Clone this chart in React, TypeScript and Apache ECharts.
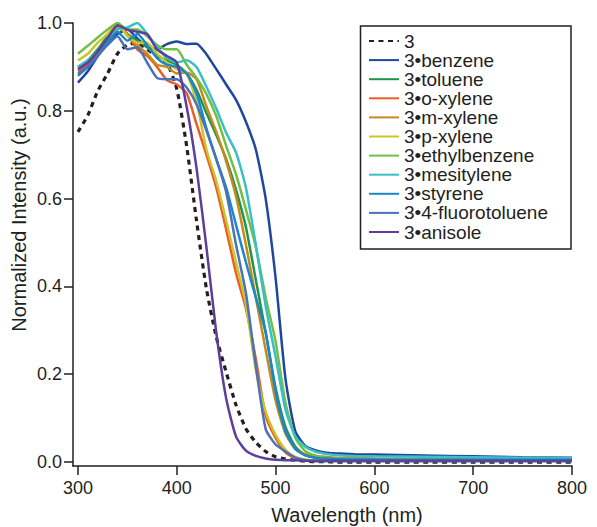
import React, { useEffect, useRef } from 'react';
import * as echarts from 'echarts';

const WAVELENGTH = [300, 310, 320, 330, 340, 350, 360, 370, 380, 390, 400, 410, 420, 430, 440, 450, 460, 470, 480, 490, 500, 510, 520, 530, 540, 550, 560, 580, 600, 650, 700, 750, 800];

const S_3 = [0.752, 0.79, 0.845, 0.885, 0.93, 0.95, 0.955, 0.94, 0.925, 0.91, 0.85, 0.72, 0.55, 0.395, 0.285, 0.205, 0.13, 0.076, 0.045, 0.024, 0.012, 0.007, 0.004, 0.002, 0.001, 0.001, 0, 0, 0, 0, 0, 0, 0];
const S_BENZENE = [0.864, 0.89, 0.925, 0.955, 0.975, 0.985, 0.965, 0.945, 0.94, 0.952, 0.958, 0.952, 0.953, 0.929, 0.895, 0.86, 0.825, 0.775, 0.712, 0.6, 0.42, 0.19, 0.07, 0.037, 0.027, 0.022, 0.02, 0.018, 0.017, 0.015, 0.013, 0.011, 0.01];
const S_TOLUENE = [0.9, 0.915, 0.94, 0.97, 0.99, 0.975, 0.96, 0.945, 0.925, 0.915, 0.905, 0.885, 0.848, 0.795, 0.745, 0.69, 0.62, 0.535, 0.415, 0.295, 0.17, 0.08, 0.035, 0.016, 0.01, 0.008, 0.007, 0.006, 0.006, 0.005, 0.005, 0.005, 0.005];
const S_OXYLENE = [0.89, 0.905, 0.93, 0.965, 0.995, 0.975, 0.94, 0.925, 0.9, 0.87, 0.86, 0.84, 0.77, 0.7, 0.625, 0.53, 0.43, 0.35, 0.235, 0.105, 0.055, 0.022, 0.009, 0.004, 0.003, 0.003, 0.003, 0.003, 0.003, 0.003, 0.003, 0.003, 0.003];
const S_MXYLENE = [0.9, 0.91, 0.935, 0.965, 0.99, 0.975, 0.95, 0.93, 0.905, 0.9, 0.885, 0.887, 0.872, 0.81, 0.752, 0.685, 0.605, 0.495, 0.375, 0.255, 0.14, 0.065, 0.03, 0.018, 0.014, 0.012, 0.01, 0.009, 0.008, 0.007, 0.006, 0.006, 0.006];
const S_PXYLENE = [0.915, 0.93, 0.955, 0.975, 1.0, 0.97, 0.955, 0.955, 0.93, 0.91, 0.895, 0.885, 0.82, 0.712, 0.64, 0.55, 0.455, 0.36, 0.21, 0.115, 0.062, 0.028, 0.012, 0.006, 0.004, 0.004, 0.004, 0.004, 0.004, 0.004, 0.004, 0.004, 0.004];
const S_ETHYLBENZENE = [0.93, 0.948, 0.967, 0.985, 1.0, 0.985, 0.985, 0.97, 0.95, 0.94, 0.94, 0.905, 0.875, 0.838, 0.788, 0.72, 0.655, 0.575, 0.49, 0.375, 0.275, 0.135, 0.055, 0.025, 0.015, 0.01, 0.008, 0.007, 0.006, 0.006, 0.005, 0.005, 0.005];
const S_MESITYLENE = [0.9, 0.915, 0.935, 0.96, 0.985, 0.99, 1.0, 0.975, 0.945, 0.92, 0.91, 0.915, 0.9, 0.855, 0.805, 0.75, 0.705, 0.625, 0.495, 0.355, 0.24, 0.12, 0.058, 0.035, 0.024, 0.019, 0.016, 0.014, 0.013, 0.012, 0.011, 0.01, 0.009];
const S_STYRENE = [0.885, 0.9, 0.925, 0.955, 0.98, 0.96, 0.975, 0.95, 0.92, 0.905, 0.9, 0.885, 0.84, 0.76, 0.69, 0.625, 0.54, 0.455, 0.375, 0.295, 0.16, 0.07, 0.03, 0.015, 0.01, 0.008, 0.007, 0.006, 0.006, 0.005, 0.005, 0.005, 0.005];
const S_FLUOROTOLUENE = [0.88, 0.9, 0.925, 0.95, 0.97, 0.94, 0.945, 0.91, 0.875, 0.872, 0.872, 0.853, 0.815, 0.755, 0.69, 0.615, 0.495, 0.385, 0.22, 0.075, 0.04, 0.024, 0.01, 0.004, 0.002, 0.002, 0.002, 0.002, 0.002, 0.002, 0.002, 0.002, 0.002];
const S_ANISOLE = [0.895, 0.91, 0.935, 0.965, 0.995, 0.985, 0.98, 0.975, 0.94, 0.925, 0.91, 0.81, 0.67, 0.49, 0.295, 0.145, 0.058, 0.026, 0.014, 0.008, 0.005, 0.004, 0.004, 0.003, 0.003, 0.003, 0.003, 0.003, 0.003, 0.003, 0.003, 0.003, 0.003];

const SERIES_NAMES = ['3', '3•benzene', '3•toluene', '3•o-xylene', '3•m-xylene', '3•p-xylene', '3•ethylbenzene', '3•mesitylene', '3•styrene', '3•4-fluorotoluene', '3•anisole'];
const SERIES_COLORS = ['#231f20', '#1f47a0', '#1e9648', '#f15a24', '#c8891e', '#c6c72b', '#72bf44', '#3bbfc4', '#1b87c9', '#4a72b8', '#5b3f9b'];

const X_TICKS = [300, 400, 500, 600, 700, 800];
const Y_TICKS = [0, 0.2, 0.4, 0.6, 0.8, 1.0];

const FONT = '"Liberation Sans", Arial, Helvetica, sans-serif';
const INK = '#231f20';

export default function App() {
  const ref = useRef<HTMLDivElement>(null);
  useEffect(() => {
    const chart = echarts.init(ref.current as HTMLDivElement, null, { renderer: 'svg' });
    const dataSets = [S_3, S_BENZENE, S_TOLUENE, S_OXYLENE, S_MXYLENE, S_PXYLENE, S_ETHYLBENZENE, S_MESITYLENE, S_STYRENE, S_FLUOROTOLUENE, S_ANISOLE];
    const series = dataSets.map((vals, i) => ({
      name: SERIES_NAMES[i],
      type: 'line',
      data: WAVELENGTH.map((x, j) => [x, vals[j]]),
      symbol: 'none',
      showSymbol: false,
      smooth: 0.2,
      lineStyle: {
        color: SERIES_COLORS[i],
        width: i === 0 ? 3.2 : 2.5,
        type: i === 0 ? [5, 4.5] : 'solid',
      },
      itemStyle: { color: SERIES_COLORS[i] },
    }));
    chart.setOption({
      animation: false,
      grid: { left: 73, right: 25, top: 23, bottom: 61, containLabel: false },
      xAxis: {
        type: 'value',
        min: 295,
        max: 800,
        splitLine: { show: false },
        axisLine: { show: true, onZero: false, lineStyle: { color: INK, width: 1.5 } },
        axisTick: { show: true, inside: false, length: 9, customValues: X_TICKS, lineStyle: { color: INK, width: 1.5 } },
        axisLabel: { customValues: X_TICKS, fontSize: 18, fontFamily: FONT, color: INK, margin: 13 },
      },
      yAxis: {
        type: 'value',
        min: -0.009,
        max: 1.0,
        splitLine: { show: false },
        axisLine: { show: true, onZero: false, lineStyle: { color: INK, width: 1.5 } },
        axisTick: { show: true, inside: false, length: 9, customValues: Y_TICKS, lineStyle: { color: INK, width: 1.5 } },
        axisLabel: {
          customValues: Y_TICKS,
          fontSize: 18,
          fontFamily: FONT,
          color: INK,
          margin: 11,
          formatter: (v: number) => v.toFixed(1),
        },
      },
      legend: {
        data: SERIES_NAMES,
        orient: 'vertical',
        left: 368,
        top: 31.5,
        padding: 0,
        itemWidth: 30,
        itemHeight: 14,
        itemGap: 0.1,
        selectedMode: false,
        textStyle: { fontSize: 19, fontFamily: FONT, color: INK, lineHeight: 14 },
        itemStyle: { color: 'transparent', borderWidth: 0, opacity: 0 },
      },
      graphic: [
        {
          type: 'rect',
          shape: { x: 360.5, y: 26, width: 210.5, height: 223 },
          style: { fill: 'transparent', stroke: INK, lineWidth: 1.5 },
          z: 10,
        },
        {
          type: 'text',
          x: 347,
          y: 515,
          style: { text: 'Wavelength (nm)', font: `20px ${FONT}`, fill: INK, textAlign: 'center', textVerticalAlign: 'middle' },
        },
        {
          type: 'text',
          x: 19,
          y: 215,
          rotation: Math.PI / 2,
          style: { text: 'Normalized Intensity (a.u.)', font: `20px ${FONT}`, fill: INK, textAlign: 'center', textVerticalAlign: 'middle' },
        },
      ],
      series,
    });
    return () => chart.dispose();
  }, []);
  return <div ref={ref} style={{ position: 'absolute', left: 0, top: 0, width: 597, height: 527 }} />;
}
